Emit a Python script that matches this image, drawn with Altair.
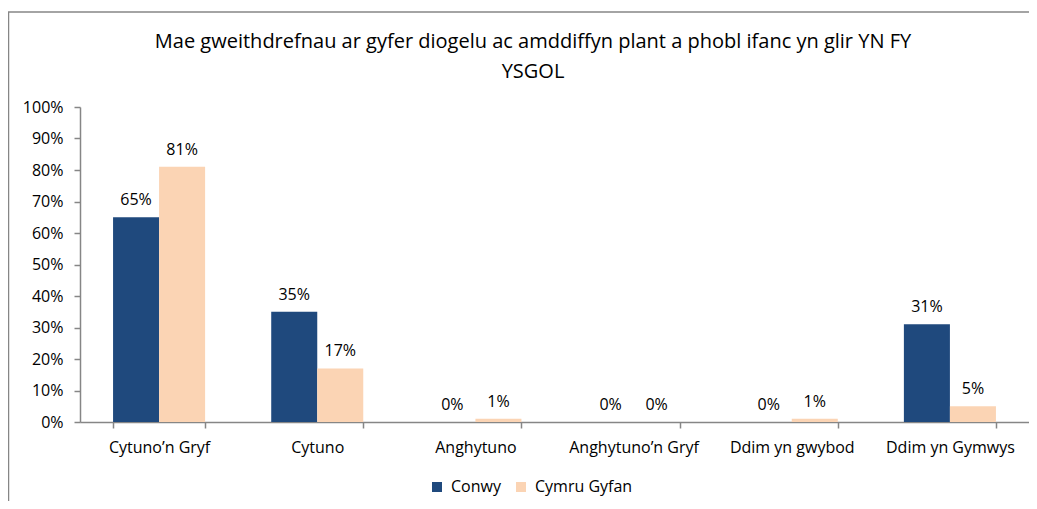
import altair as alt
import pandas as pd

title_lines = ["Mae gweithdrefnau ar gyfer diogelu ac amddiffyn plant a phobl ifanc yn glir YN FY", "YSGOL"]
categories = ["Cytuno’n Gryf", "Cytuno", "Anghytuno", "Anghytuno’n Gryf", "Ddim yn gwybod", "Ddim yn Gymwys"]
conwy = [65, 35, 0, 0, 0, 31]
cymru = [81, 17, 1, 0, 1, 5]
series = ["Conwy", "Cymru Gyfan"]
colors = ["#1F497D", "#FBD4B4"]

rows = []
for c, a, b in zip(categories, conwy, cymru):
    rows.append({"cat": c, "series": series[0], "v": a / 100})
    rows.append({"cat": c, "series": series[1], "v": b / 100})
df = pd.DataFrame(rows)

FONT = "Open Sans"
FS = 16

xaxis = alt.Axis(labelAngle=0, labelFontSize=FS, labelFont=FONT, labelColor="#000",
                 domainColor="#868686", tickColor="#868686", tickSize=6,
                 tickBand="extent", labelPadding=11, domainWidth=1.5, tickWidth=1.5)
yaxis = alt.Axis(format=".0%", values=[0, 0.1, 0.2, 0.3, 0.4, 0.5, 0.6, 0.7, 0.8, 0.9, 1.0], grid=False,
                 labelFontSize=FS, labelFont=FONT, labelColor="#000", labelOverlap=False,
                 domainColor="#868686", tickColor="#868686", tickSize=6,
                 labelPadding=11, domainWidth=1.5, tickWidth=1.5)
xscale = alt.Scale(paddingInner=0.418, paddingOuter=0.209)
yscale = alt.Scale(domain=[0, 1])
xo = alt.XOffset("series:N", sort=series)

bars = alt.Chart(df).mark_bar().encode(
    x=alt.X("cat:N", sort=categories, title=None, scale=xscale, axis=xaxis),
    xOffset=xo,
    y=alt.Y("v:Q", title=None, scale=yscale, axis=yaxis),
    color=alt.Color("series:N", sort=series,
                    scale=alt.Scale(domain=series, range=colors),
                    legend=alt.Legend(title=None, orient="none", direction="horizontal",
                                      legendX=349, legendY=372, symbolType="square",
                                      symbolSize=100, symbolStrokeWidth=0,
                                      labelFontSize=FS, labelFont=FONT, labelColor="#000",
                                      columnPadding=12, labelOffset=6)),
)

labels = alt.Chart(df).mark_text(baseline="alphabetic", dy=-12, fontSize=FS, font=FONT, color="#000").encode(
    x=alt.X("cat:N", sort=categories, title=None, scale=xscale, axis=xaxis),
    xOffset=xo,
    y=alt.Y("v:Q", title=None, scale=yscale, axis=yaxis),
    text=alt.Text("v:Q", format=".0%"),
)

border = alt.Chart(pd.DataFrame({"a": [0]})).mark_rect(
    fill=None, stroke="#868686", strokeWidth=1.5, clip=False
).encode(x=alt.value(-71.5), x2=alt.value(1000), y=alt.value(-95), y2=alt.value(500))

title = alt.Chart(pd.DataFrame({"t": ["\n".join(title_lines)]})).mark_text(
    font=FONT, fontSize=20, color="#000", align="center", baseline="top",
    lineBreak="\n", lineHeight=30
).encode(text="t:N", x=alt.value(453), y=alt.value(-75))

chart = alt.layer(border, bars, labels, title).properties(
    width=949, height=315,
    padding={"left": 72, "top": 99, "right": 0, "bottom": 79},
    autosize=alt.AutoSizeParams(type="none"),
).configure_view(stroke=None)

chart.save("out.html", embed_options={"renderer": "svg", "actions": False})
